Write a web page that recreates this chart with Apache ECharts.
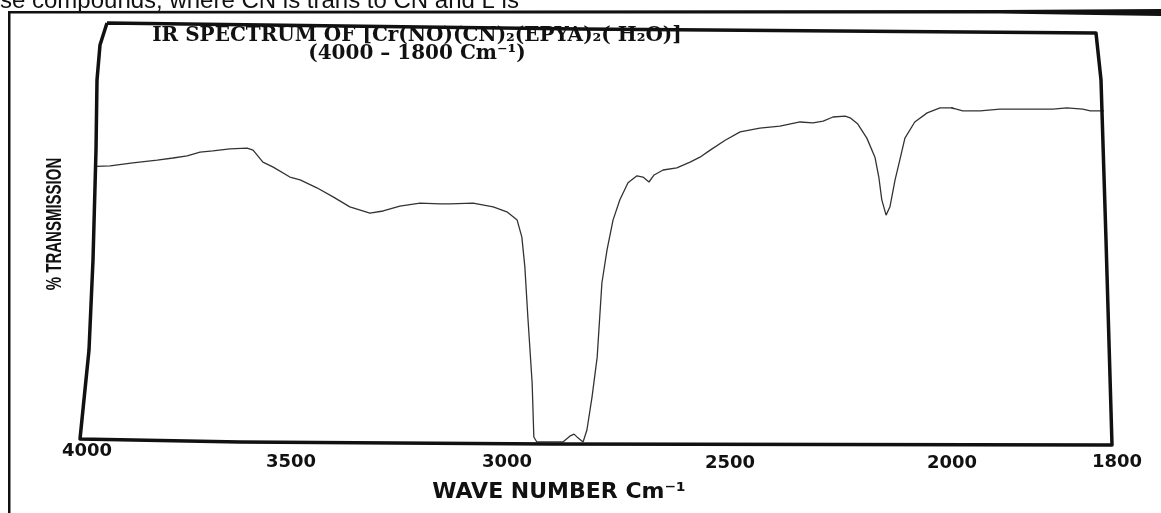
<!DOCTYPE html>
<html>
<head>
<meta charset="utf-8">
<script src="https://cdn.jsdelivr.net/npm/echarts@6/dist/echarts.min.js"></script>
<style>
html,body{margin:0;padding:0;background:#fff;}
#chart{width:1161px;height:513px;}
</style>
</head>
<body>
<div id="chart"></div>
<script>
// ---- data (wavenumber in cm-1, % transmission) ----
const wavenumbers = [
  4000, 3967, 3914, 3857, 3820, 3787, 3757, 3727, 3687, 3647,
  3633, 3610, 3586, 3547, 3523, 3484, 3446, 3407, 3360, 3329,
  3290, 3243, 3196, 3173, 3119, 3072, 3040, 3016, 3005, 2998,
  2991, 2981, 2977, 2970, 2939, 2909, 2893, 2883, 2874, 2862,
  2853, 2841, 2829, 2818, 2806, 2792, 2776, 2757, 2736, 2722,
  2708, 2696, 2675, 2643, 2612, 2589, 2565, 2530, 2495, 2449,
  2402, 2355, 2325, 2301, 2278, 2250, 2238, 2220, 2199, 2180,
  2171, 2164, 2154, 2145, 2133, 2122, 2110, 2087, 2058, 2028,
  2000, 1986, 1963, 1937, 1901, 1867, 1849, 1828, 1818, 1803,
  1800
];
const transmission = [
  66.6, 66.7, 67.4, 68.1, 68.6, 69.1, 70.0, 70.3, 70.8, 71.0,
  70.5, 67.6, 66.4, 64.0, 63.3, 61.4, 59.2, 56.8, 55.3, 55.8,
  57.0, 57.7, 57.5, 57.5, 57.7, 56.8, 55.6, 53.6, 49.5, 42.3,
  30.2, 14.3, 1.2, 0.0, 0.0, 0.0, 1.4, 1.9, 1.0, 0.0,
  2.9, 10.9, 20.5, 38.4, 46.4, 53.6, 58.5, 62.6, 64.3, 64.0,
  62.8, 64.5, 65.7, 66.2, 67.6, 68.8, 70.5, 72.9, 74.9, 75.8,
  76.3, 77.3, 77.1, 77.5, 78.5, 78.7, 78.3, 76.8, 73.4, 68.8,
  64.0, 58.5, 54.8, 56.8, 63.3, 68.1, 73.4, 77.3, 79.5, 80.7,
  80.7, 80.0, 80.0, 80.4, 80.4, 80.4, 80.7, 80.4, 80.0, 80.0,
  80.0
];
// the chart paper changes scale at 2000 cm-1 (two panels)
const upperRange = [2000, 4000];
const lowerRange = [1800, 2000];
const upperTickStep = 500;
const lowerTickStep = 200;
const tickLabels = [4000, 3500, 3000, 2500, 2000, 1800];

const titleLine1 = 'IR SPECTRUM OF [Cr(NO)(CN)\u2082(EPYA)\u2082( H\u2082O)]';
const titleLine2 = '(4000 \u2013 1800 Cm\u207B\u00B9)';
const xAxisTitle = 'WAVE NUMBER Cm\u207B\u00B9';
const yAxisTitle = '% TRANSMISSION';
const pageText = 'se compounds, where CN is trans to CN and L is';

const points = wavenumbers.map((w, i) => [w, transmission[i]]);

// tick labels on the scanned page sit slightly off the ideal scale; small per-label nudges
const labelNudge = {
  4000: { padding: [0, 18, 0, 0] },
  3500: { padding: [11, 38, 0, 0] },
  3000: { padding: [11, 34, 0, 0] },
  2500: { padding: [12, 16, 0, 0] },
  2000: { padding: [12, 0, 0, 0] },
  1800: { padding: [11, 0, 0, 26] }
};
const rich = {};
Object.keys(labelNudge).forEach(k => { rich['t' + k] = labelNudge[k]; });
const tickFormatter = v => (tickLabels.indexOf(v) >= 0 ? '{t' + v + '|' + v + '}' : '');

const labelStyle = {
  fontFamily: 'DejaVu Sans', fontWeight: 'bold', fontSize: 18, color: '#111', margin: 0,
  formatter: tickFormatter, rich: rich
};
const lineStyle = { color: '#333', width: 1.3 };

const chart = echarts.init(document.getElementById('chart'), null, { renderer: 'canvas' });
chart.setOption({
  backgroundColor: '#fff',
  animation: false,
  title: {
    text: titleLine1,
    subtext: titleLine2,
    left: 412, top: 22, textAlign: 'center', itemGap: -2,
    textStyle: { fontFamily: 'DejaVu Serif', fontWeight: 'bold', fontSize: 20, lineHeight: 18, color: '#111' },
    subtextStyle: { fontFamily: 'DejaVu Serif', fontWeight: 'bold', fontSize: 20, lineHeight: 18, color: '#111' }
  },
  grid: [
    { left: 96, top: 28, width: 856, height: 414 },
    { left: 952, top: 28, width: 152, height: 414 }
  ],
  xAxis: [
    {
      gridIndex: 0, type: 'value', inverse: true,
      min: upperRange[0], max: upperRange[1], interval: upperTickStep,
      axisLine: { show: false }, axisTick: { show: false }, splitLine: { show: false },
      axisLabel: labelStyle,
      name: xAxisTitle, nameLocation: 'middle', nameGap: 39,
      nameTextStyle: { fontFamily: 'DejaVu Sans', fontWeight: 'bold', fontSize: 22, color: '#111', padding: [0, 0, 0, 70] }
    },
    {
      gridIndex: 1, type: 'value', inverse: true,
      min: lowerRange[0], max: lowerRange[1], interval: lowerTickStep,
      axisLine: { show: false }, axisTick: { show: false }, splitLine: { show: false },
      axisLabel: Object.assign({}, labelStyle, {
        formatter: v => (v === lowerRange[0] ? tickFormatter(v) : '')
      })
    }
  ],
  yAxis: [
    {
      gridIndex: 0, type: 'value', min: 0, max: 100,
      axisLine: { show: false }, axisTick: { show: false }, axisLabel: { show: false }, splitLine: { show: false }
    },
    {
      gridIndex: 1, type: 'value', min: 0, max: 100, show: false
    }
  ],
  series: [
    { type: 'line', xAxisIndex: 0, yAxisIndex: 0, data: points, showSymbol: false, clip: true, lineStyle: lineStyle, silent: true },
    { type: 'line', xAxisIndex: 1, yAxisIndex: 1, data: points, showSymbol: false, clip: true, lineStyle: lineStyle, silent: true }
  ],
  graphic: [
    // chart frame as printed (slightly skewed scan)
    { type: 'polyline', silent: true, z: 10,
      shape: { points: [[107,23],[580,29],[1096,33],[1101,80],[1106,240],[1112,445],[550,444],[240,442],[80,439],[89,350],[93,260],[96,150],[97,80],[100,45],[107,23]] },
      style: { stroke: '#111', lineWidth: 3.5, fill: null, lineJoin: 'round' } },
    // page border lines
    { type: 'polygon', silent: true,
      shape: { points: [[8,11],[1000,10],[1161,9],[1161,16],[1000,13.5],[8,13.5]] },
      style: { fill: '#111' } },
    { type: 'rect', silent: true, shape: { x: 8, y: 12, width: 2.5, height: 501 }, style: { fill: '#111' } },
    // page text cut off at the top
    { type: 'text', silent: true, x: 0, y: 1,
      style: { text: pageText, font: '24px "Liberation Sans"', fill: '#111', verticalAlign: 'middle' } },
    // y-axis title (condensed, as on the scan)
    { type: 'text', silent: true, x: 55, y: 224, rotation: Math.PI / 2, scaleY: 1.5,
      style: { text: yAxisTitle, font: 'bold 15px "Liberation Sans"', fill: '#111', align: 'center', verticalAlign: 'middle' } }
  ]
});
</script>
</body>
</html>
